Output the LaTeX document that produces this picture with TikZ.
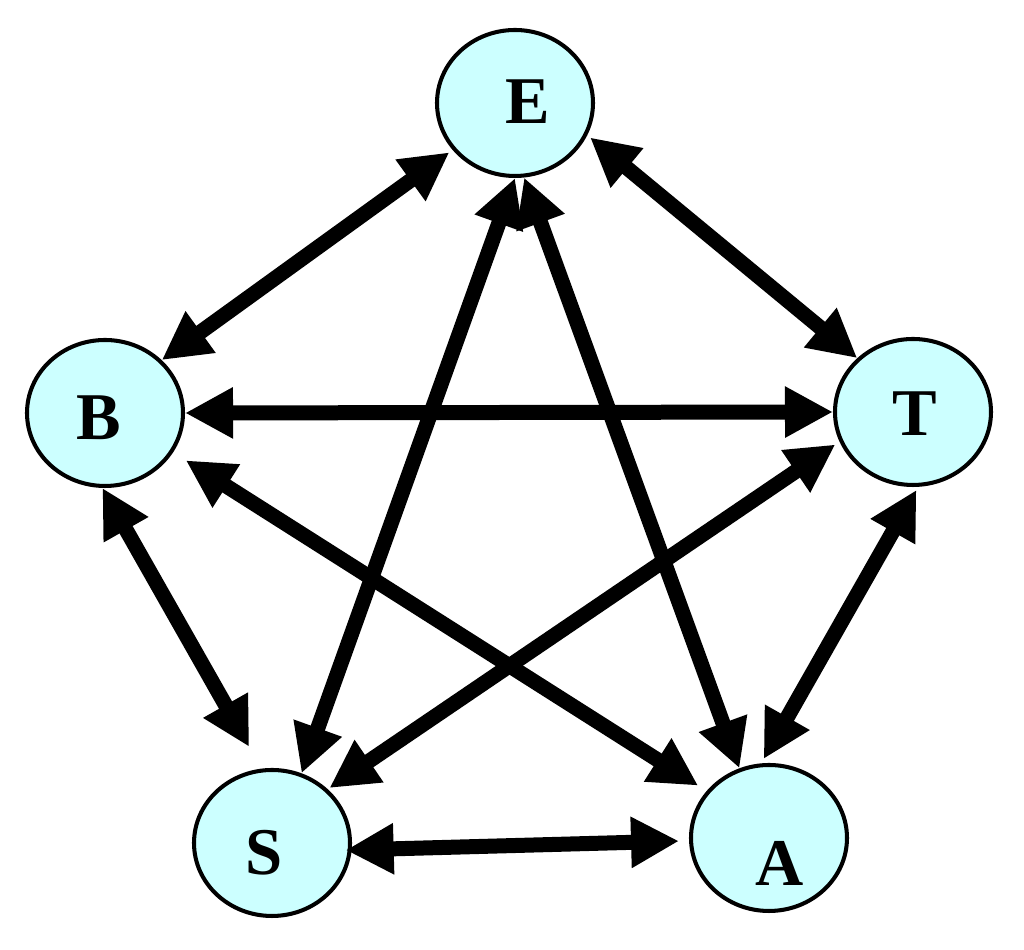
\documentclass[tikz,border=0pt]{standalone}
\usepackage{fontspec}
\setmainfont{Liberation Serif}
\usetikzlibrary{arrows.meta,shapes.geometric}
\definecolor{ballcyan}{HTML}{CCFFFF}

\begin{document}
\begin{tikzpicture}[
        ball/.style={ellipse, draw, line width=1.15pt, fill=ballcyan,
            minimum width=1.56cm, minimum height=1.46cm, inner sep=0pt},
        tag/.style={font=\fontsize{19}{22}\selectfont\bfseries},
        link/.style={line width=0.15cm,
            {Triangle[width=0.48cm,length=0.48cm]}-{Triangle[width=0.48cm,length=0.48cm]}}]
        \useasboundingbox (0,0) rectangle (10.24,9.5);
        \node[ball, label={[tag, shift={(0.13,0.01)}]center:E}] (E) at (5.15,8.47) {};
        \node[ball, label={[tag, shift={(-0.06,-0.05)}]center:B}] (B) at (1.05,5.37) {};
        \node[ball, label={[tag, shift={(0.02,-0.02)}]center:T}] (T) at (9.13,5.38) {};
        \node[ball, label={[tag, shift={(-0.08,-0.10)}]center:S}] (S) at (2.72,1.07) {};
        \node[ball, label={[tag, shift={(0.11,-0.25)}]center:A}] (A) at (7.69,1.12) {};
        \foreach \from/\to/\gapa/\gapb in {E.217/B.43/0.04/0, E.336/T.136/0.036/0,
                B.0/T.180/0/0, E.270/S.67/0/0, E.277/A.113/0/0, B.268/S.98/0/0.25,
                B.330/A.143/0.15/0.10, T.202/S.44/0.05/0.02, T.274/A.96/0.035/0.05,
                S.355/A.182/-0.06/0.10}
            \draw[link, shorten <=\gapa cm, shorten >=\gapb cm] (\from) -- (\to);
    \end{tikzpicture}
\end{document}
